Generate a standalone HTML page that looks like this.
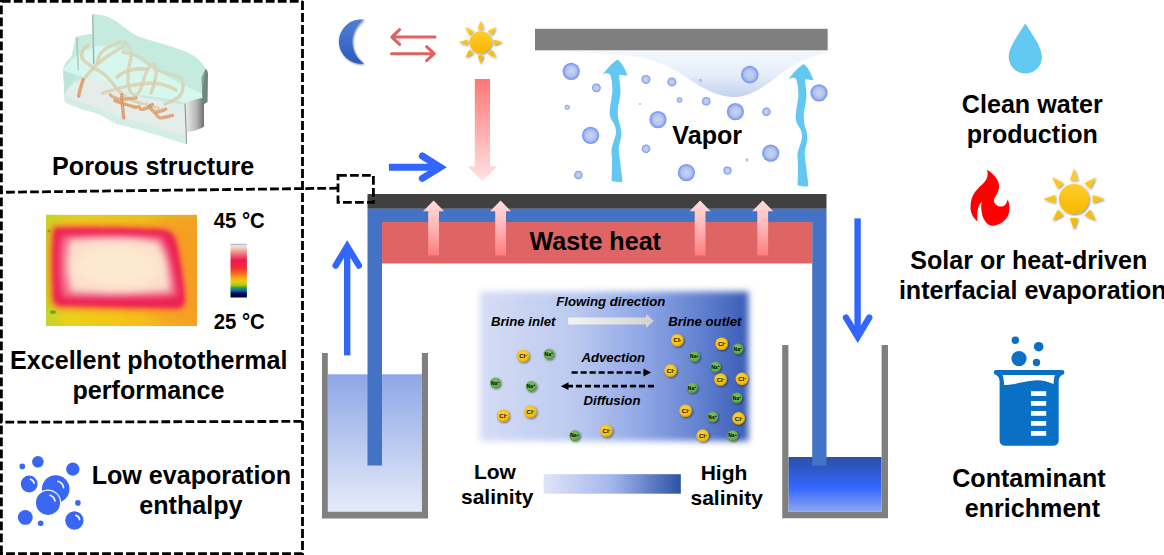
<!DOCTYPE html>
<html><head><meta charset="utf-8"><style>
html,body{margin:0;padding:0;background:#fff;width:1164px;height:555px;overflow:hidden}
svg{display:block}
text{font-family:"Liberation Sans",sans-serif}
</style></head><body>
<svg width="1164" height="555" viewBox="0 0 1164 555">
<defs><linearGradient id="gPink" x1="0" y1="0" x2="0" y2="1"><stop offset="0" stop-color="#ff7676"/><stop offset="1" stop-color="#ffe3e3"/></linearGradient><linearGradient id="gPinkUp" x1="0" y1="0" x2="0" y2="1"><stop offset="0" stop-color="#ffdede"/><stop offset="0.5" stop-color="#ffb4b4"/><stop offset="1" stop-color="#ff7c7c"/></linearGradient><linearGradient id="gLiqL" x1="0" y1="0" x2="0" y2="1"><stop offset="0" stop-color="#8ea6e6"/><stop offset="1" stop-color="#e6ebf9"/></linearGradient><linearGradient id="gLiqR" x1="0" y1="0" x2="0" y2="1"><stop offset="0" stop-color="#2b50a6"/><stop offset="0.55" stop-color="#3366ff"/><stop offset="1" stop-color="#8ea8ee"/></linearGradient><linearGradient id="gSal" x1="0" y1="0" x2="1" y2="0"><stop offset="0" stop-color="#d5dcf5"/><stop offset="0.35" stop-color="#bccaf0"/><stop offset="0.6" stop-color="#91a8e6"/><stop offset="0.82" stop-color="#6281d0"/><stop offset="1" stop-color="#3a5cb4"/></linearGradient><linearGradient id="gBar" x1="0" y1="0" x2="1" y2="0"><stop offset="0" stop-color="#dfe4f7"/><stop offset="0.5" stop-color="#a3b6ec"/><stop offset="1" stop-color="#2d52a6"/></linearGradient><linearGradient id="gFlow" x1="0" y1="0" x2="1" y2="0"><stop offset="0" stop-color="#f4f4f4"/><stop offset="1" stop-color="#d2d2d2"/></linearGradient><linearGradient id="gMoon" x1="0" y1="0" x2="0" y2="1"><stop offset="0" stop-color="#4f7fd6"/><stop offset="1" stop-color="#2b5bbd"/></linearGradient><linearGradient id="gSun" x1="0" y1="0" x2="0" y2="1"><stop offset="0" stop-color="#ffcc2a"/><stop offset="1" stop-color="#f7b900"/></linearGradient><linearGradient id="gCond" x1="0" y1="0" x2="0" y2="1"><stop offset="0" stop-color="#f4f8fd"/><stop offset="0.5" stop-color="#e6eefa"/><stop offset="1" stop-color="#c4d2ee"/></linearGradient><radialGradient id="gBub" cx="0.5" cy="0.5" r="0.5"><stop offset="0" stop-color="#c9d5ee"/><stop offset="0.6" stop-color="#b3c3ee"/><stop offset="1" stop-color="#6d8ff3"/></radialGradient><radialGradient id="gCl" cx="0.45" cy="0.4" r="0.6"><stop offset="0" stop-color="#ffd84a"/><stop offset="0.8" stop-color="#f5bb0a"/><stop offset="1" stop-color="#d49b00"/></radialGradient><radialGradient id="gNa" cx="0.45" cy="0.4" r="0.6"><stop offset="0" stop-color="#84c466"/><stop offset="0.8" stop-color="#62ab48"/><stop offset="1" stop-color="#4a8a36"/></radialGradient><linearGradient id="gCbar" x1="0" y1="0" x2="0" y2="1"><stop offset="0" stop-color="#f6e2d2"/><stop offset="0.06" stop-color="#f8d4bc"/><stop offset="0.18" stop-color="#f07482"/><stop offset="0.3" stop-color="#ee1a50"/><stop offset="0.44" stop-color="#f02a36"/><stop offset="0.54" stop-color="#f86422"/><stop offset="0.63" stop-color="#f8a818"/><stop offset="0.7" stop-color="#f0c810"/><stop offset="0.77" stop-color="#b0c810"/><stop offset="0.82" stop-color="#20a040"/><stop offset="0.87" stop-color="#1462cc"/><stop offset="0.92" stop-color="#000a50"/><stop offset="1" stop-color="#000030"/></linearGradient><linearGradient id="gTherm" x1="0" y1="0" x2="1" y2="0"><stop offset="0" stop-color="#e6d61a"/><stop offset="0.5" stop-color="#f5c418"/><stop offset="1" stop-color="#f6a522"/></linearGradient><linearGradient id="gWallR" x1="0" y1="0" x2="1" y2="0"><stop offset="0" stop-color="#f0f0f0"/><stop offset="0.6" stop-color="#b8b8b8"/><stop offset="1" stop-color="#707070"/></linearGradient><filter id="fBlur2" x="-20%" y="-20%" width="140%" height="140%"><feGaussianBlur stdDeviation="2.2"/></filter><filter id="fBlur3" x="-30%" y="-30%" width="160%" height="160%"><feGaussianBlur stdDeviation="3"/></filter><filter id="fBlur6" x="-40%" y="-40%" width="180%" height="180%"><feGaussianBlur stdDeviation="6"/></filter><filter id="fSh" x="-30%" y="-30%" width="160%" height="160%"><feGaussianBlur in="SourceAlpha" stdDeviation="1"/><feOffset dx="0.9" dy="1.1" result="o"/><feComponentTransfer><feFuncA type="linear" slope="0.5"/></feComponentTransfer><feMerge><feMergeNode/><feMergeNode in="SourceGraphic"/></feMerge></filter></defs>
<path d="M0,1.3 H302.5" stroke="#000" stroke-width="2.8" stroke-dasharray="8.8 3.2" fill="none" stroke-dashoffset="-1.8"/>
<path d="M1.4,0 V555" stroke="#000" stroke-width="2.8" stroke-dasharray="8.8 3.2" fill="none" stroke-dashoffset="-5.4"/>
<path d="M302.5,0 V555" stroke="#000" stroke-width="2.8" stroke-dasharray="8.8 3.2" fill="none" stroke-dashoffset="-1.1"/>
<path d="M0,192.3 L302.5,188.6" stroke="#000" stroke-width="2.8" stroke-dasharray="8.8 3.2" fill="none" stroke-dashoffset="-6.1"/>
<path d="M0,422.2 L302.5,421.4" stroke="#000" stroke-width="2.8" stroke-dasharray="8.8 3.2" fill="none" stroke-dashoffset="-5.4"/>
<path d="M0,553.6 H302.5" stroke="#000" stroke-width="2.8" stroke-dasharray="8.8 3.2" fill="none" stroke-dashoffset="-6.1"/>
<path d="M302.5,188.6 L338,188.2" stroke="#000" stroke-width="2.8" stroke-dasharray="8.8 3.2" fill="none" stroke-dashoffset="-2.8"/>
<g>
<path d="M92.3,14.3 C100,14 108,16 116,21 C124,27 131,33 138,36.4 C148,40 165,44 184,51 C195,55 202,62 205.6,68.8 C207,70 208,72 208,74.5 L207.5,102 L204,104 L204,126.4 C201,129 193,131 189.4,131.3 C188,132 187,133 186.9,134.5 L186.7,144.2 C176,140.8 162,136 147.5,132.2 C133,127.5 120,125 114,122.7 C108,119 100,114 95,112.7 C88,111 80,109 76.6,107 C70,105 66,103 64.7,101.5 L63.1,70.2 C64,64 67,60 71.2,57.2 L75.7,37 C82,35 88,34 92.1,33.9 Z" fill="#c4ebde"/>
<path d="M63.1,70.2 C68,62 80,50 98,46 C112,44 124,50 136,58 C155,70 180,84 203,94 L204,104 L186,103 C170,99 160,97 148,96 C130,94 118,90 100,82 C85,77 72,73 63.1,70.2 Z" fill="#d6f7ee"/>
<path d="M64.7,96 C67,88 74,81 85,78.5 C95,78 100,80 105,82 C115,88 125,93 138,96 C155,100 172,103 186,105 L186.7,144.2 C176,140.8 162,136 147.5,132.2 C133,127.5 120,125 114,122.7 C108,119 100,114 95,112.7 C88,111 80,109 76.6,107 C70,105 66,103 64.7,101.5 Z" fill="#e5edea"/>
<path d="M64.7,101.5 C66,103 70,105 76.6,107 C80,109 88,111 95,112.7 C100,114 108,119 114,122.7 C120,125 133,127.5 147.5,132.2 C162,136 176,140.8 186.7,144.2 L186.5,136 C170,132 150,125 135,121 C115,116 100,108 85,103 C75,100 68,97 64.7,95 Z" fill="#cfeee4" opacity="0.8"/>
<path d="M63.1,70.2 C66,72 70,74 75,75 L75,80 C70,84 66,90 64.7,96 Z" fill="#b8e3d6" opacity="0.6"/>
<path d="M75.7,37 L78,38 L79,70 L77.5,70 Z" fill="#9fc9bb" opacity="0.8"/>
<path d="M92.1,14.5 L93.5,15 L94.5,64 L93,64 Z" fill="#5d6f69" opacity="0.5"/>
<path d="M184.5,103.7 C188,101.5 196,99 202.3,98 L204,100.5 L204,126.4 C201,129 193,131 189.4,131.3 C188,132 187,133 186.9,134.5 L186.1,143.5 Z" fill="url(#gWallR)"/>
<path d="M184.5,103.7 L186.1,143.5 L187,143.5 L185.6,103.5 Z" fill="#5a6a64" opacity="0.7"/>
<path d="M205.6,68.8 C207,70 208,72 208,74.5 L207.5,102 L204,104 L202.3,97.2 L201.5,77.7 C203,74 204.5,71 205.6,68.8 Z" fill="#6f8580"/>
<path d="M87.8,45.4 C83,48 80.5,54 82,58 C85,64 95,68 102.4,72.8 C108,77 113,84 118,90 C123,95 130,100 137,102 C145,104 152,106 158,108" fill="none" stroke="#d6c9a4" stroke-width="3.3" stroke-linecap="round" stroke-opacity="0.85"/>
<path d="M87.8,45.4 C83,48 80.5,54 82,58 C85,64 95,68 102.4,72.8 C108,77 113,84 118,90 C123,95 130,100 137,102 C145,104 152,106 158,108" fill="none" stroke="#ffffff" stroke-opacity="0.35" stroke-width="3.3" stroke-dasharray="0.6 1.1" stroke-linecap="butt"/>
<path d="M83,80 C92,68 100,61 108,56 C116,51 124,46 127,44 C131,48 132,54 131,58 C129,64 128,72 128,80 C128,88 130,93 134,95 C138,96 141,90 143,82 C145,74 148,66 154,64 C158,70 156,82 151,93" fill="none" stroke="#d6c9a4" stroke-width="3.3" stroke-linecap="round" stroke-opacity="0.85"/>
<path d="M83,80 C92,68 100,61 108,56 C116,51 124,46 127,44 C131,48 132,54 131,58 C129,64 128,72 128,80 C128,88 130,93 134,95 C138,96 141,90 143,82 C145,74 148,66 154,64 C158,70 156,82 151,93" fill="none" stroke="#ffffff" stroke-opacity="0.35" stroke-width="3.3" stroke-dasharray="0.6 1.1" stroke-linecap="butt"/>
<path d="M97.3,62.5 C98,56 102,50 109,47 C115,44 120,42 124.6,42" fill="none" stroke="#d6c9a4" stroke-width="3.3" stroke-linecap="round" stroke-opacity="0.85"/>
<path d="M97.3,62.5 C98,56 102,50 109,47 C115,44 120,42 124.6,42" fill="none" stroke="#ffffff" stroke-opacity="0.35" stroke-width="3.3" stroke-dasharray="0.6 1.1" stroke-linecap="butt"/>
<path d="M122.9,52.3 C130,53 136,54 140,57 C145,61 150,66 158,70 C166,74 176,75 181,78 C184,82 184,90 180,96 C176,100 170,102 165,104" fill="none" stroke="#d6c9a4" stroke-width="3.3" stroke-linecap="round" stroke-opacity="0.85"/>
<path d="M122.9,52.3 C130,53 136,54 140,57 C145,61 150,66 158,70 C166,74 176,75 181,78 C184,82 184,90 180,96 C176,100 170,102 165,104" fill="none" stroke="#ffffff" stroke-opacity="0.35" stroke-width="3.3" stroke-dasharray="0.6 1.1" stroke-linecap="butt"/>
<path d="M102.4,93.3 C110,91 118,88 128,86 C138,84 146,83 154,83 C162,84 170,86 176,90" fill="none" stroke="#d6c9a4" stroke-width="3.3" stroke-linecap="round" stroke-opacity="0.85"/>
<path d="M102.4,93.3 C110,91 118,88 128,86 C138,84 146,83 154,83 C162,84 170,86 176,90" fill="none" stroke="#ffffff" stroke-opacity="0.35" stroke-width="3.3" stroke-dasharray="0.6 1.1" stroke-linecap="butt"/>
<path d="M117,77 C125,70 135,68 146,69" fill="none" stroke="#d6c9a4" stroke-width="3.3" stroke-linecap="round" stroke-opacity="0.85"/>
<path d="M117,77 C125,70 135,68 146,69" fill="none" stroke="#ffffff" stroke-opacity="0.35" stroke-width="3.3" stroke-dasharray="0.6 1.1" stroke-linecap="butt"/>
<path d="M83.1,79.9 C81,86 79.5,91 78.8,96.1" fill="none" stroke="#d9884c" stroke-width="3.3" stroke-linecap="round" stroke-opacity="0.85"/>
<path d="M83.1,79.9 C81,86 79.5,91 78.8,96.1" fill="none" stroke="#ffffff" stroke-opacity="0.35" stroke-width="3.3" stroke-dasharray="0.6 1.1" stroke-linecap="butt"/>
<path d="M121.7,95 C122,103 123,111 123.7,117.9" fill="none" stroke="#d9884c" stroke-width="3.3" stroke-linecap="round" stroke-opacity="0.85"/>
<path d="M121.7,95 C122,103 123,111 123.7,117.9" fill="none" stroke="#ffffff" stroke-opacity="0.35" stroke-width="3.3" stroke-dasharray="0.6 1.1" stroke-linecap="butt"/>
<path d="M115,100.7 C119,102 122,103.5 126,104.5 C130,105.5 133,106.5 136.1,107.4" fill="none" stroke="#d9884c" stroke-width="3.3" stroke-linecap="round" stroke-opacity="0.85"/>
<path d="M115,100.7 C119,102 122,103.5 126,104.5 C130,105.5 133,106.5 136.1,107.4" fill="none" stroke="#ffffff" stroke-opacity="0.35" stroke-width="3.3" stroke-dasharray="0.6 1.1" stroke-linecap="butt"/>
<path d="M110.3,95 C113,97 116,99 119.8,99.3 C125,99.5 131,98.5 136.1,97.9" fill="none" stroke="#d9884c" stroke-width="3.3" stroke-linecap="round" stroke-opacity="0.7"/>
<path d="M110.3,95 C113,97 116,99 119.8,99.3 C125,99.5 131,98.5 136.1,97.9" fill="none" stroke="#ffffff" stroke-opacity="0.35" stroke-width="3.3" stroke-dasharray="0.6 1.1" stroke-linecap="butt"/>
<path d="M138.9,106.5 C139.5,108 140,109 141,109.3 C144,109.5 148,108 152.3,104.6" fill="none" stroke="#d9884c" stroke-width="3.3" stroke-linecap="round" stroke-opacity="0.8"/>
<path d="M138.9,106.5 C139.5,108 140,109 141,109.3 C144,109.5 148,108 152.3,104.6" fill="none" stroke="#ffffff" stroke-opacity="0.35" stroke-width="3.3" stroke-dasharray="0.6 1.1" stroke-linecap="butt"/>
<path d="M149.4,106.5 C151,109 152.5,111 154.2,112.2 C158,112 162,110.5 165.7,109.3" fill="none" stroke="#d9884c" stroke-width="3.3" stroke-linecap="round" stroke-opacity="0.8"/>
<path d="M149.4,106.5 C151,109 152.5,111 154.2,112.2 C158,112 162,110.5 165.7,109.3" fill="none" stroke="#ffffff" stroke-opacity="0.35" stroke-width="3.3" stroke-dasharray="0.6 1.1" stroke-linecap="butt"/>
<path d="M156.1,114.1 C157,116 158.5,117.5 160,117.9 C164,118 168,116.5 172.4,115.5" fill="none" stroke="#d9884c" stroke-width="3.3" stroke-linecap="round" stroke-opacity="0.8"/>
<path d="M156.1,114.1 C157,116 158.5,117.5 160,117.9 C164,118 168,116.5 172.4,115.5" fill="none" stroke="#ffffff" stroke-opacity="0.35" stroke-width="3.3" stroke-dasharray="0.6 1.1" stroke-linecap="butt"/>
<path d="M92.3,14.3 C100,14 108,16 116,21 C124,27 131,33 138,36.4 C148,40 165,44 184,51 C195,55 202,62 205.6,68.8 L202,94 C180,84 155,70 136,58 C124,50 112,44 98,46 C95,46 93,47 92.5,47 Z" fill="#c4ebde" opacity="0.3"/>
</g>
<text x="153.2" y="174.6" font-size="25.1" text-anchor="middle" font-weight="bold" font-style="normal" fill="#000" stroke="#000" stroke-width="0" >Porous structure</text>
<svg x="46" y="214.8" width="151" height="111.2" viewBox="46 214.8 151 111.2" overflow="hidden">
<rect x="46" y="214.8" width="151" height="111.2" fill="url(#gTherm)"/>
<rect x="36" y="205" width="24" height="130" fill="#b8d030" opacity="0.55" filter="url(#fBlur6)"/>
<rect x="40" y="208" width="170" height="10" fill="#c0d030" opacity="0.5" filter="url(#fBlur3)"/>
<rect x="160" y="215" width="50" height="110" fill="#f59a28" opacity="0.6" filter="url(#fBlur6)"/>
<circle cx="49" cy="231" r="1.6" fill="#3a9a40" opacity="0.8"/>
<ellipse cx="53" cy="312" rx="3" ry="1.8" fill="#3a9a40" opacity="0.8"/>
<path d="M59,298 l2,-2 l1,3" stroke="#fff8c0" stroke-width="1" fill="none"/>
<path d="M56,228 C90,227 130,228 163,229.5 C172,231 175,236 177,244 C181,262 184,285 185,299 C185,305 182,308 177,308.5 C140,308 95,307 60,306 C55,305 53,301 53,296 C52,275 52,250 53,235 C53,231 54,228.5 56,228 Z" fill="none" stroke="#f5902a" stroke-width="8" filter="url(#fBlur3)"/>
<path d="M56,228 C90,227 130,228 163,229.5 C172,231 175,236 177,244 C181,262 184,285 185,299 C185,305 182,308 177,308.5 C140,308 95,307 60,306 C55,305 53,301 53,296 C52,275 52,250 53,235 C53,231 54,228.5 56,228 Z" fill="#ee2352" filter="url(#fBlur2)"/>
<path d="M62,236 C100,234 140,235 162,237 C170,250 175,275 177,296 C140,298 100,298 63,297 C59,280 59,255 62,236 Z" fill="#f2708e" filter="url(#fBlur3)"/>
<path d="M70,240 C105,238 135,238 158,242 C166,256 169,276 170,291 C135,293 105,293 72,292 C66,275 66,258 70,240 Z" fill="#fcdccb" filter="url(#fBlur3)"/>
<ellipse cx="118" cy="266" rx="44" ry="21" fill="#fce9d0" filter="url(#fBlur6)"/>
</svg>
<rect x="230.5" y="244.3" width="16.4" height="53.2" fill="url(#gCbar)"/>
<rect x="230.5" y="243.8" width="16.4" height="1" fill="#9ab4dc"/>
<text x="239.3" y="228.4" font-size="20.3" text-anchor="middle" font-weight="bold" font-style="normal" fill="#000" stroke="#000" stroke-width="0" transform="translate(0,228.4) scale(1,1.07) translate(0,-228.4)">45 °C</text>
<text x="239.3" y="329.1" font-size="20.3" text-anchor="middle" font-weight="bold" font-style="normal" fill="#000" stroke="#000" stroke-width="0" transform="translate(0,329.1) scale(1,1.07) translate(0,-329.1)">25 °C</text>
<text x="148.8" y="368.7" font-size="25.1" text-anchor="middle" font-weight="bold" font-style="normal" fill="#000" stroke="#000" stroke-width="0" >Excellent photothermal</text>
<text x="148.5" y="398.8" font-size="25.1" text-anchor="middle" font-weight="bold" font-style="normal" fill="#000" stroke="#000" stroke-width="0" >performance</text>
<circle cx="22.3" cy="466.4" r="2.8" fill="#3a66f5"/>
<circle cx="37.9" cy="461.8" r="5.8" fill="#3a66f5"/>
<circle cx="72.8" cy="469.2" r="6.6" fill="#3a66f5"/>
<circle cx="29.2" cy="484" r="8.4" fill="#3a66f5"/>
<circle cx="55.7" cy="489" r="13.8" fill="#3a66f5"/>
<circle cx="77.9" cy="502.9" r="2.8" fill="#3a66f5"/>
<circle cx="25.3" cy="517.4" r="7.4" fill="#3a66f5"/>
<circle cx="40.7" cy="523.3" r="2.8" fill="#3a66f5"/>
<circle cx="74.4" cy="520.5" r="9.2" fill="#3a66f5"/>
<circle cx="48" cy="502.8" r="13.2" fill="#fff"/>
<circle cx="48" cy="502.8" r="12.1" fill="#3a66f5"/>
<path d="M30.54,479.32 A4.87,4.87 0 0,1 34.00,483.15" stroke="#fff" stroke-width="1.6" fill="none" stroke-linecap="round"/>
<path d="M57.91,481.31 A8.00,8.00 0 0,1 63.58,487.61" stroke="#fff" stroke-width="1.6" fill="none" stroke-linecap="round"/>
<path d="M49.93,495.35 A7.02,7.02 0 0,1 54.91,500.88" stroke="#fff" stroke-width="1.6" fill="none" stroke-linecap="round"/>
<path d="M75.87,515.37 A5.34,5.34 0 0,1 79.65,519.57" stroke="#fff" stroke-width="1.6" fill="none" stroke-linecap="round"/>
<text x="191.4" y="483.5" font-size="25.1" text-anchor="middle" font-weight="bold" font-style="normal" fill="#000" stroke="#000" stroke-width="0" >Low evaporation</text>
<text x="190.9" y="513.8" font-size="25.1" text-anchor="middle" font-weight="bold" font-style="normal" fill="#000" stroke="#000" stroke-width="0" >enthalpy</text>
<path d="M364,19.6 A22.2,22.2 0 1,0 364,63.6 A26.6,26.6 0 0,1 364,19.6 Z" fill="url(#gMoon)" filter="url(#fSh)"/>
<path d="M435,37.1 H391.8 M399.6,29.7 L391.8,37.1 L399.6,44.4 M391.5,53.7 H434.2 M426.6,46.7 L434.2,53.7 L426.6,60.6" stroke="#df6262" stroke-width="3" fill="none" stroke-linecap="round" stroke-linejoin="round"/>
<g filter="url(#fSh)"><path d="M480.50,20.50 L483.40,29.30 L477.60,29.30 Z M495.91,26.89 L491.74,35.16 L487.64,31.06 Z M502.30,42.30 L493.50,45.20 L493.50,39.40 Z M495.91,57.71 L487.64,53.54 L491.74,49.44 Z M480.50,64.10 L477.60,55.30 L483.40,55.30 Z M465.09,57.71 L469.26,49.44 L473.36,53.54 Z M458.70,42.30 L467.50,39.40 L467.50,45.20 Z M465.09,26.89 L473.36,31.06 L469.26,35.16 Z" fill="url(#gSun)"/><circle cx="480.5" cy="42.3" r="11" fill="url(#gSun)"/></g>
<path d="M474.8,78.9 H490 V166.5 H497 L482.4,181.2 L467.8,166.5 H474.8 Z" fill="url(#gPink)"/>
<path d="M388.9,167.2 H438" stroke="#3366ff" stroke-width="7" fill="none"/>
<path d="M422.3,156 L440.3,167.2 L422.3,178.4" stroke="#3366ff" stroke-width="7" fill="none" stroke-linecap="round" stroke-linejoin="miter" stroke-miterlimit="10"/>
<rect x="535" y="28.8" width="292.7" height="21.5" fill="#7f7f7f"/>
<path d="M560,51 L827.7,51 L827.7,53.5 C812,55 795,62 775,78 C758,92 745,97 734,97 C720,97 705,90 690,80 C668,64 650,57 620,55 C600,53.5 580,52.5 560,51 Z" fill="url(#gCond)"/>
<circle cx="571.2" cy="71.3" r="8.6" fill="url(#gBub)"/>
<circle cx="596.4" cy="87.8" r="4.4" fill="url(#gBub)"/>
<circle cx="567.2" cy="107.3" r="2.5" fill="url(#gBub)"/>
<circle cx="590.6" cy="135.4" r="8.6" fill="url(#gBub)"/>
<circle cx="578.4" cy="175" r="4.3" fill="url(#gBub)"/>
<circle cx="645.9" cy="79.4" r="4.5" fill="url(#gBub)"/>
<circle cx="671.9" cy="81.9" r="4.5" fill="url(#gBub)"/>
<circle cx="700.4" cy="80.6" r="1.5" fill="url(#gBub)"/>
<circle cx="640" cy="104" r="1.1" fill="url(#gBub)"/>
<circle cx="679.5" cy="100" r="2.8" fill="url(#gBub)"/>
<circle cx="706.2" cy="101.2" r="4.3" fill="url(#gBub)"/>
<circle cx="658" cy="119.6" r="8.6" fill="url(#gBub)"/>
<circle cx="646" cy="148.8" r="4.3" fill="url(#gBub)"/>
<circle cx="686.4" cy="172.6" r="8.6" fill="url(#gBub)"/>
<circle cx="727.5" cy="170.6" r="4.1" fill="url(#gBub)"/>
<circle cx="747" cy="160" r="1.4" fill="url(#gBub)"/>
<circle cx="735.4" cy="111.7" r="8.6" fill="url(#gBub)"/>
<circle cx="766.4" cy="111.7" r="4.3" fill="url(#gBub)"/>
<circle cx="770.7" cy="153.1" r="8.6" fill="url(#gBub)"/>
<circle cx="749.8" cy="74.6" r="8.8" fill="url(#gBub)"/>
<circle cx="819" cy="92.8" r="8.6" fill="url(#gBub)"/>
<path transform="translate(0,0)" d="M617.5,59.6 C621,62 625,68 627.4,75.5 C625,75.5 621,74.5 619.3,74.7 C618.5,78 620.5,84 620.5,90 C620.5,98 617.5,106 617.8,113.4 C618,122 621.5,126 621.4,133.2 C621.3,140 618.5,144 618.7,149.5 C619,156 620.5,162 620.8,167.5 C621.2,173 622.5,178 622.3,181.9 C619,182.5 615,181.5 611.5,181 C612,172 612.5,162 611.5,153 C610.8,145 616,139 616,131.4 C616,123 609.5,120 609.7,113.4 C609.8,104 612.4,96 612.4,90 C612.4,84 611.5,78 610,74.3 C608,73 606,72.8 602.7,74.7 C606,70 612,63 617.5,59.6 Z" fill="#62c8f2"/>
<path transform="translate(186,4.5)" d="M617.5,59.6 C621,62 625,68 627.4,75.5 C625,75.5 621,74.5 619.3,74.7 C618.5,78 620.5,84 620.5,90 C620.5,98 617.5,106 617.8,113.4 C618,122 621.5,126 621.4,133.2 C621.3,140 618.5,144 618.7,149.5 C619,156 620.5,162 620.8,167.5 C621.2,173 622.5,178 622.3,181.9 C619,182.5 615,181.5 611.5,181 C612,172 612.5,162 611.5,153 C610.8,145 616,139 616,131.4 C616,123 609.5,120 609.7,113.4 C609.8,104 612.4,96 612.4,90 C612.4,84 611.5,78 610,74.3 C608,73 606,72.8 602.7,74.7 C606,70 612,63 617.5,59.6 Z" fill="#62c8f2"/>
<text x="707.2" y="143.6" font-size="25.1" text-anchor="middle" font-weight="bold" font-style="normal" fill="#000" stroke="#000" stroke-width="0" >Vapor</text>
<rect x="327.8" y="374.3" width="94.1" height="137.5" fill="url(#gLiqL)"/>
<rect x="788.4" y="457" width="93.2" height="54.9" fill="url(#gLiqR)"/>
<rect x="367.5" y="194" width="459" height="14.8" fill="#404040"/>
<path d="M367.5,208.8 H826.5 V465.7 H812.2 V221.9 H382 V465.6 H367.5 Z" fill="#4472c4"/>
<rect x="382" y="221.9" width="430.2" height="41.6" fill="#df6464"/>
<path d="M428.20000000000005,255.5 V211.3 H423.1 L433.6,200.5 L444.1,211.3 H439.0 V255.5 Z" fill="url(#gPinkUp)"/>
<path d="M495.20000000000005,255.5 V211.3 H490.1 L500.6,200.5 L511.1,211.3 H506.0 V255.5 Z" fill="url(#gPinkUp)"/>
<path d="M694.7,255.5 V211.3 H689.6 L700.1,200.5 L710.6,211.3 H705.5 V255.5 Z" fill="url(#gPinkUp)"/>
<path d="M757.3000000000001,255.5 V211.3 H752.2 L762.7,200.5 L773.2,211.3 H768.1 V255.5 Z" fill="url(#gPinkUp)"/>
<text x="595.2" y="249.6" font-size="25.1" text-anchor="middle" font-weight="bold" font-style="normal" fill="#000" stroke="#000" stroke-width="0" >Waste heat</text>
<path d="M338,175.4 H373.4 V202.4 H338 Z" stroke="#000" stroke-width="2.8" stroke-dasharray="8.8 3.2" fill="none"/>
<path d="M347.2,355.4 V250" stroke="#3366ff" stroke-width="6.4" fill="none"/>
<path d="M335.6,265.6 L347.2,246.5 L359,265.6" stroke="#3366ff" stroke-width="6.4" fill="none" stroke-linecap="round" stroke-linejoin="miter" stroke-miterlimit="10"/>
<path d="M857.6,218.4 V333" stroke="#3366ff" stroke-width="6.4" fill="none"/>
<path d="M846,317.6 L857.7,336.8 L869.2,317.6" stroke="#3366ff" stroke-width="6.4" fill="none" stroke-linecap="round" stroke-linejoin="miter" stroke-miterlimit="10"/>
<path d="M322,353 H327.8 V511.7 H421.9 V353 H428 V518.5 H322 Z" fill="#808080"/>
<path d="M782.2,345 H788.4 V511.9 H881.6 V345 H888 V518.2 H782.2 Z" fill="#808080"/>
<rect x="480" y="291.5" width="268.5" height="149.5" fill="url(#gSal)" filter="url(#fBlur3)"/>
<text x="610.8" y="306" font-size="13.2" text-anchor="middle" font-weight="bold" font-style="italic" fill="#000" stroke="#000" stroke-width="0" >Flowing direction</text>
<text x="523.2" y="325.9" font-size="13.2" text-anchor="middle" font-weight="bold" font-style="italic" fill="#000" stroke="#000" stroke-width="0" >Brine inlet</text>
<text x="704.8" y="325.6" font-size="13.2" text-anchor="middle" font-weight="bold" font-style="italic" fill="#000" stroke="#000" stroke-width="0" >Brine outlet</text>
<path d="M568.2,317.6 H646 V314 L653.8,321 L646,328 V324.4 H568.2 Z" fill="url(#gFlow)"/>
<text x="613.3" y="361.6" font-size="13.2" text-anchor="middle" font-weight="bold" font-style="italic" fill="#000" stroke="#000" stroke-width="0" >Advection</text>
<text x="612" y="404.9" font-size="13.2" text-anchor="middle" font-weight="bold" font-style="italic" fill="#000" stroke="#000" stroke-width="0" >Diffusion</text>
<path d="M571.6,372.5 H644" stroke="#000" stroke-width="2.7" stroke-dasharray="6.1 2.9"/>
<path d="M643.5,368.6 L651,372.5 L643.5,376.4 Z" fill="#000"/>
<path d="M654,386.2 H568" stroke="#000" stroke-width="2.7" stroke-dasharray="6.1 2.9"/>
<path d="M568.5,382.3 L560.8,386.2 L568.5,390.1 Z" fill="#000"/>
<circle cx="523" cy="356" r="6.3" fill="url(#gCl)" filter="url(#fSh)"/>
<text x="523.1" y="358.1" font-size="6" font-weight="bold" text-anchor="middle" fill="#000">Cl<tspan font-size="5" dy="-0.8">-</tspan></text>
<circle cx="503.1" cy="415.7" r="6.3" fill="url(#gCl)" filter="url(#fSh)"/>
<text x="503.20000000000005" y="417.8" font-size="6" font-weight="bold" text-anchor="middle" fill="#000">Cl<tspan font-size="5" dy="-0.8">-</tspan></text>
<circle cx="530.3" cy="411.7" r="6.3" fill="url(#gCl)" filter="url(#fSh)"/>
<text x="530.4" y="413.8" font-size="6" font-weight="bold" text-anchor="middle" fill="#000">Cl<tspan font-size="5" dy="-0.8">-</tspan></text>
<circle cx="606.3" cy="430.7" r="6.3" fill="url(#gCl)" filter="url(#fSh)"/>
<text x="606.4" y="432.8" font-size="6" font-weight="bold" text-anchor="middle" fill="#000">Cl<tspan font-size="5" dy="-0.8">-</tspan></text>
<circle cx="677.3" cy="340.3" r="6.3" fill="url(#gCl)" filter="url(#fSh)"/>
<text x="677.4" y="342.40000000000003" font-size="6" font-weight="bold" text-anchor="middle" fill="#000">Cl<tspan font-size="5" dy="-0.8">-</tspan></text>
<circle cx="721.7" cy="343.7" r="6.3" fill="url(#gCl)" filter="url(#fSh)"/>
<text x="721.8000000000001" y="345.8" font-size="6" font-weight="bold" text-anchor="middle" fill="#000">Cl<tspan font-size="5" dy="-0.8">-</tspan></text>
<circle cx="670.6" cy="370.6" r="6.3" fill="url(#gCl)" filter="url(#fSh)"/>
<text x="670.7" y="372.70000000000005" font-size="6" font-weight="bold" text-anchor="middle" fill="#000">Cl<tspan font-size="5" dy="-0.8">-</tspan></text>
<circle cx="720.5" cy="379.5" r="6.3" fill="url(#gCl)" filter="url(#fSh)"/>
<text x="720.6" y="381.6" font-size="6" font-weight="bold" text-anchor="middle" fill="#000">Cl<tspan font-size="5" dy="-0.8">-</tspan></text>
<circle cx="741.9" cy="378.9" r="6.3" fill="url(#gCl)" filter="url(#fSh)"/>
<text x="742.0" y="381.0" font-size="6" font-weight="bold" text-anchor="middle" fill="#000">Cl<tspan font-size="5" dy="-0.8">-</tspan></text>
<circle cx="685.6" cy="410.8" r="6.3" fill="url(#gCl)" filter="url(#fSh)"/>
<text x="685.7" y="412.90000000000003" font-size="6" font-weight="bold" text-anchor="middle" fill="#000">Cl<tspan font-size="5" dy="-0.8">-</tspan></text>
<circle cx="738.6" cy="418.4" r="6.3" fill="url(#gCl)" filter="url(#fSh)"/>
<text x="738.7" y="420.5" font-size="6" font-weight="bold" text-anchor="middle" fill="#000">Cl<tspan font-size="5" dy="-0.8">-</tspan></text>
<circle cx="702.7" cy="435.6" r="6.3" fill="url(#gCl)" filter="url(#fSh)"/>
<text x="702.8000000000001" y="437.70000000000005" font-size="6" font-weight="bold" text-anchor="middle" fill="#000">Cl<tspan font-size="5" dy="-0.8">-</tspan></text>
<circle cx="549" cy="354.1" r="5.4" fill="url(#gNa)" filter="url(#fSh)"/>
<text x="548.8" y="355.90000000000003" font-size="5" font-weight="bold" text-anchor="middle" fill="#000">Na<tspan font-size="3.6" dy="-1.8">+</tspan></text>
<circle cx="495.4" cy="382.9" r="5.4" fill="url(#gNa)" filter="url(#fSh)"/>
<text x="495.2" y="384.7" font-size="5" font-weight="bold" text-anchor="middle" fill="#000">Na<tspan font-size="3.6" dy="-1.8">+</tspan></text>
<circle cx="531.2" cy="386.3" r="5.4" fill="url(#gNa)" filter="url(#fSh)"/>
<text x="531.0" y="388.1" font-size="5" font-weight="bold" text-anchor="middle" fill="#000">Na<tspan font-size="3.6" dy="-1.8">+</tspan></text>
<circle cx="574.7" cy="435.6" r="5.4" fill="url(#gNa)" filter="url(#fSh)"/>
<text x="574.5" y="437.40000000000003" font-size="5" font-weight="bold" text-anchor="middle" fill="#000">Na<tspan font-size="3.6" dy="-1.8">+</tspan></text>
<circle cx="694.5" cy="356.6" r="5.4" fill="url(#gNa)" filter="url(#fSh)"/>
<text x="694.3" y="358.40000000000003" font-size="5" font-weight="bold" text-anchor="middle" fill="#000">Na<tspan font-size="3.6" dy="-1.8">+</tspan></text>
<circle cx="738" cy="348.9" r="5.4" fill="url(#gNa)" filter="url(#fSh)"/>
<text x="737.8" y="350.7" font-size="5" font-weight="bold" text-anchor="middle" fill="#000">Na<tspan font-size="3.6" dy="-1.8">+</tspan></text>
<circle cx="715.6" cy="367" r="5.4" fill="url(#gNa)" filter="url(#fSh)"/>
<text x="715.4" y="368.8" font-size="5" font-weight="bold" text-anchor="middle" fill="#000">Na<tspan font-size="3.6" dy="-1.8">+</tspan></text>
<circle cx="692.3" cy="387.8" r="5.4" fill="url(#gNa)" filter="url(#fSh)"/>
<text x="692.0999999999999" y="389.6" font-size="5" font-weight="bold" text-anchor="middle" fill="#000">Na<tspan font-size="3.6" dy="-1.8">+</tspan></text>
<circle cx="737" cy="397.9" r="5.4" fill="url(#gNa)" filter="url(#fSh)"/>
<text x="736.8" y="399.7" font-size="5" font-weight="bold" text-anchor="middle" fill="#000">Na<tspan font-size="3.6" dy="-1.8">+</tspan></text>
<circle cx="712.8" cy="416.9" r="5.4" fill="url(#gNa)" filter="url(#fSh)"/>
<text x="712.5999999999999" y="418.7" font-size="5" font-weight="bold" text-anchor="middle" fill="#000">Na<tspan font-size="3.6" dy="-1.8">+</tspan></text>
<circle cx="732.7" cy="435.6" r="5.4" fill="url(#gNa)" filter="url(#fSh)"/>
<text x="732.5" y="437.40000000000003" font-size="5" font-weight="bold" text-anchor="middle" fill="#000">Na<tspan font-size="3.6" dy="-1.8">+</tspan></text>
<rect x="543.6" y="474.2" width="137.2" height="19.5" fill="url(#gBar)"/>
<text x="494.9" y="479" font-size="21" text-anchor="middle" font-weight="bold" font-style="normal" fill="#000" stroke="#000" stroke-width="0" >Low</text>
<text x="497.2" y="504.2" font-size="21" text-anchor="middle" font-weight="bold" font-style="normal" fill="#000" stroke="#000" stroke-width="0" >salinity</text>
<text x="724" y="479.9" font-size="21" text-anchor="middle" font-weight="bold" font-style="normal" fill="#000" stroke="#000" stroke-width="0" >High</text>
<text x="726.7" y="504.7" font-size="21" text-anchor="middle" font-weight="bold" font-style="normal" fill="#000" stroke="#000" stroke-width="0" >salinity</text>
<path d="M1025.3,23.2 C1021,31 1008.7,46 1008.7,56.9 A16.65,16.65 0 0,0 1042,56.9 C1042,46 1029.6,31 1025.3,23.2 Z" fill="#63c9f2"/>
<text x="1032.3" y="112.5" font-size="25.1" text-anchor="middle" font-weight="bold" font-style="normal" fill="#000" stroke="#000" stroke-width="0" >Clean water</text>
<text x="1032.3" y="143" font-size="25.1" text-anchor="middle" font-weight="bold" font-style="normal" fill="#000" stroke="#000" stroke-width="0" >production</text>
<path d="M987,169.7 C996,175 1001,183 998.5,190 C997,195 994,198 993.8,200 C994,205 999,207 1002,206.5 C1005,206 1007,203 1007.6,199.2 C1010,204 1010.5,212 1007.3,217 C1004,222 998,226 991.1,225.8 C986,224 982,218 981.6,211 C981,207 981,204 981.8,201.9 C978,205 976.5,212 977.6,221.5 C972,217 970,211 970.6,205 C971,196 976,190 981,185.5 C986,181 989,177 987,169.7 Z" fill="#ff0000"/>
<g filter="url(#fSh)"><path d="M1073.90,168.40 L1077.90,180.30 L1069.90,180.30 Z M1095.61,177.39 L1090.02,188.63 L1084.37,182.98 Z M1104.60,199.10 L1092.70,203.10 L1092.70,195.10 Z M1095.61,220.81 L1084.37,215.22 L1090.02,209.57 Z M1073.90,229.80 L1069.90,217.90 L1077.90,217.90 Z M1052.19,220.81 L1057.78,209.57 L1063.43,215.22 Z M1043.20,199.10 L1055.10,195.10 L1055.10,203.10 Z M1052.19,177.39 L1063.43,182.98 L1057.78,188.63 Z" fill="url(#gSun)"/><circle cx="1073.9" cy="199.1" r="15" fill="url(#gSun)"/></g>
<text x="1028.7" y="269.4" font-size="25.1" text-anchor="middle" font-weight="bold" font-style="normal" fill="#000" stroke="#000" stroke-width="0" >Solar or heat-driven</text>
<text x="898.9" y="298.6" font-size="25.1" text-anchor="start" font-weight="bold" font-style="normal" fill="#000" stroke="#000" stroke-width="0" >interfacial evaporation</text>
<path d="M996.2,370.1 H1062 A2.45,2.45 0 0,1 1062,375 C1060,376 1058.8,378 1058.7,381 V440.7 A5,5 0 0,1 1053.7,445.7 H1004.6 A5,5 0 0,1 999.6,440.7 V381 C999.5,378 998,376 996.2,375 A2.45,2.45 0 0,1 996.2,370.1 Z" fill="#0a70c6"/>
<path d="M1002.7,375 H1055 C1054,378 1053.6,381 1053.6,384 C1048,381.5 1042,380 1036.7,380.2 C1026,380.5 1014,385 1004.1,385 C1004,381 1003.5,378 1002.7,375 Z" fill="#fff"/>
<rect x="1031" y="391.2" width="15.2" height="4.8" fill="#fff"/>
<rect x="1031" y="401" width="15.2" height="4.8" fill="#fff"/>
<rect x="1031" y="411" width="15.2" height="4.8" fill="#fff"/>
<rect x="1031" y="421" width="15.2" height="4.8" fill="#fff"/>
<rect x="1031" y="431" width="15.2" height="4.8" fill="#fff"/>
<circle cx="1015.3" cy="340.2" r="3.7" fill="#0a70c6"/>
<circle cx="1038.7" cy="346.7" r="4.8" fill="#0a70c6"/>
<circle cx="1019" cy="358.6" r="7.6" fill="#0a70c6"/>
<circle cx="1036.5" cy="362.5" r="3.7" fill="#0a70c6"/>
<text x="1028.9" y="486.7" font-size="25.1" text-anchor="middle" font-weight="bold" font-style="normal" fill="#000" stroke="#000" stroke-width="0" >Contaminant</text>
<text x="1032.4" y="517.1" font-size="25.1" text-anchor="middle" font-weight="bold" font-style="normal" fill="#000" stroke="#000" stroke-width="0" >enrichment</text>
</svg></body></html>
